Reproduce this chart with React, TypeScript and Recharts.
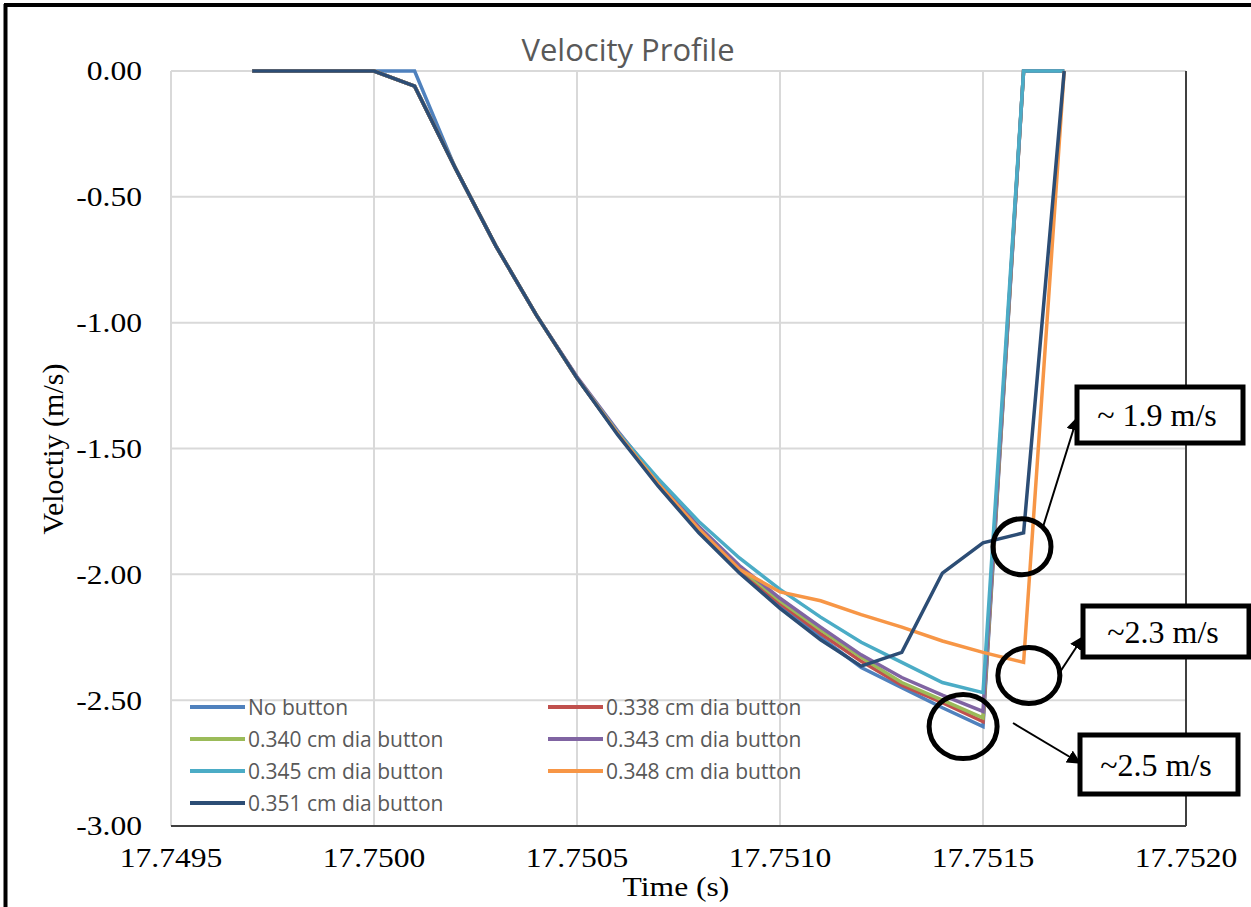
import { LineChart, Line, XAxis, YAxis, CartesianGrid, Legend, ReferenceLine, ReferenceDot } from 'recharts';

// time stamps (s)
const times = [
  17.7497, 17.7498, 17.7499, 17.75, 17.7501, 17.7502, 17.7503, 17.7504, 17.7505, 17.7506, 17.7507,
  17.7508, 17.7509, 17.751, 17.7511, 17.7512, 17.7513, 17.7514, 17.7515, 17.7516, 17.7517,
];

// velocities (m/s), one array per button size
const noButton = [0, 0, 0, 0, 0, -0.385, -0.695, -0.97, -1.22, -1.44, -1.64, -1.825, -1.985, -2.125, -2.25, -2.37, -2.45, -2.53, -2.605, 0, 0];
const dia338 = [0, 0, 0, 0, -0.06, -0.385, -0.695, -0.97, -1.22, -1.44, -1.64, -1.82, -1.98, -2.115, -2.235, -2.345, -2.44, -2.51, -2.585, 0, 0];
const dia340 = [0, 0, 0, 0, -0.06, -0.385, -0.695, -0.97, -1.22, -1.44, -1.635, -1.815, -1.975, -2.105, -2.22, -2.33, -2.43, -2.5, -2.57, 0, 0];
const dia343 = [0, 0, 0, 0, -0.06, -0.385, -0.695, -0.97, -1.215, -1.43, -1.63, -1.81, -1.965, -2.095, -2.21, -2.32, -2.41, -2.48, -2.545, 0, 0];
const dia345 = [0, 0, 0, 0, -0.06, -0.385, -0.695, -0.97, -1.22, -1.435, -1.62, -1.79, -1.935, -2.06, -2.17, -2.27, -2.35, -2.43, -2.47, 0, 0];
const dia348 = [0, 0, 0, 0, -0.06, -0.385, -0.695, -0.97, -1.22, -1.44, -1.64, -1.82, -1.98, -2.07, -2.105, -2.16, -2.21, -2.265, -2.31, -2.35, 0];
const dia351 = [0, 0, 0, 0, -0.06, -0.385, -0.695, -0.97, -1.22, -1.445, -1.65, -1.835, -1.995, -2.135, -2.26, -2.365, -2.31, -1.995, -1.875, -1.835, 0];

const seriesNames = [
  'No button',
  '0.338 cm dia button',
  '0.340 cm dia button',
  '0.343 cm dia button',
  '0.345 cm dia button',
  '0.348 cm dia button',
  '0.351 cm dia button',
];
const seriesValues = [noButton, dia338, dia340, dia343, dia345, dia348, dia351];
const seriesColors = ['#4F81BD', '#C0504D', '#9BBB59', '#8064A2', '#4BACC6', '#F79646', '#2C4D75'];

const xTicks = [17.7495, 17.75, 17.7505, 17.751, 17.7515, 17.752];
const yTicks = [0, -0.5, -1, -1.5, -2, -2.5, -3];

// highlighted spots (time, velocity, radii)
const circles = [
  { t: 17.751596, v: -1.89, rx: 29, ry: 28 },
  { t: 17.751613, v: -2.402, rx: 31, ry: 28 },
  { t: 17.751451, v: -2.605, rx: 34, ry: 32 },
];

const data = times.map((t, i) => {
  const row: Record<string, number> = { t };
  seriesValues.forEach((s, k) => {
    row['s' + k] = s[i];
  });
  return row;
});

const serif = '"Liberation Serif", "Times New Roman", serif';
const sans = '"Open Sans", "Noto Sans", sans-serif';

const XTick = ({ x, y, payload }: any) => (
  <text
    x={0}
    y={0}
    dy="0.71em"
    textAnchor="middle"
    transform={`translate(${x} ${y}) scale(1.17 1)`}
    fontFamily={serif}
    fontSize={27}
    fill="#000"
  >
    {Number(payload.value).toFixed(4)}
  </text>
);

const YTick = ({ x, y, payload }: any) => (
  <text
    x={0}
    y={0}
    dy="0.35em"
    textAnchor="end"
    transform={`translate(${x} ${y}) scale(1.17 1)`}
    fontFamily={serif}
    fontSize={27}
    fill="#000"
  >
    {Number(payload.value).toFixed(2)}
  </text>
);

const renderLegend = () => (
  <div style={{ display: 'grid', gridTemplateColumns: '358px 262px' }}>
    {seriesNames.map((name, i) => (
      <div key={name} style={{ height: 32, display: 'flex', alignItems: 'center' }}>
        <svg width={55} height={8}>
          <line x1={0} y1={4} x2={55} y2={4} stroke={seriesColors[i]} strokeWidth={4} />
        </svg>
        <span style={{ marginLeft: 3, fontFamily: sans, fontSize: 21, color: '#595959', whiteSpace: 'nowrap' }}>
          {name}
        </span>
      </div>
    ))}
  </div>
);

const ellipseShape = (rx: number, ry: number) => (props: any) => (
  <ellipse cx={props.cx} cy={props.cy} rx={rx} ry={ry} fill="none" stroke="#000" strokeWidth={5} />
);

function Callout({ x, y, w, h, label }: { x: number; y: number; w: number; h: number; label: string }) {
  return (
    <g>
      <rect x={x} y={y} width={w} height={h} fill="#fff" stroke="#000" strokeWidth={5} />
      <text
        x={x + w / 2 - 3}
        y={y + h / 2}
        dy="0.35em"
        textAnchor="middle"
        fontFamily={serif}
        fontSize={32}
        fill="#000"
      >
        {label}
      </text>
    </g>
  );
}

export default function App() {
  return (
    <div style={{ position: 'absolute', left: 0, top: 0, width: 1251, height: 907, overflow: 'hidden', background: '#fff' }}>
      <LineChart width={1251} height={907} data={data} margin={{ top: 71, right: 65, bottom: 31, left: 0 }}>
        <CartesianGrid stroke="#D9D9D9" strokeWidth={2} />
        <XAxis
          dataKey="t"
          type="number"
          domain={[17.7495, 17.752]}
          ticks={xTicks}
          height={50}
          tick={<XTick />}
          tickSize={0}
          tickMargin={22}
          tickLine={false}
          axisLine={{ stroke: '#404040', strokeWidth: 2 }}
        />
        <YAxis
          type="number"
          domain={[-3, 0]}
          ticks={yTicks}
          width={171}
          tick={<YTick />}
          tickSize={0}
          tickMargin={29}
          tickLine={false}
          axisLine={false}
        />
        <ReferenceLine x={17.752} stroke="#404040" strokeWidth={2} />
        {seriesNames.map((name, k) => (
          <Line
            key={name}
            dataKey={'s' + k}
            name={name}
            type="linear"
            stroke={seriesColors[k]}
            strokeWidth={3.5}
            dot={false}
            isAnimationActive={false}
          />
        ))}
        {circles.map((c, i) => (
          <ReferenceDot key={i} x={c.t} y={c.v} r={c.rx} shape={ellipseShape(c.rx, c.ry)} />
        ))}
        <Legend
          layout="horizontal"
          verticalAlign="middle"
          align="center"
          content={renderLegend}
          wrapperStyle={{ left: 190, top: 691, width: 640 }}
        />
      </LineChart>

      <svg
        width={1251}
        height={907}
        style={{ position: 'absolute', left: 0, top: 0, pointerEvents: 'none' }}
      >
        <defs>
          <marker id="arrow" viewBox="0 0 10 10" refX="9" refY="5" markerWidth="7" markerHeight="7" orient="auto">
            <path d="M0,0 L10,5 L0,10 z" fill="#000" />
          </marker>
        </defs>
        <line x1={5.5} y1={4} x2={5.5} y2={907} stroke="#000" strokeWidth={4} />
        <line x1={4} y1={5} x2={1251} y2={5} stroke="#000" strokeWidth={4} />

        <text x={628} y={61} textAnchor="middle" fontFamily={sans} fontSize={31} fill="#595959">
          Velocity Profile
        </text>
        <text
          x={0}
          y={0}
          textAnchor="middle"
          dominantBaseline="central"
          transform="translate(52 449) rotate(-90)"
          fontFamily={serif}
          fontSize={30}
          fill="#000"
        >
          Veloctiy (m/s)
        </text>
        <text
          x={0}
          y={0}
          textAnchor="middle"
          transform="translate(676 896) scale(1.17 1)"
          fontFamily={serif}
          fontSize={27}
          fill="#000"
        >
          Time (s)
        </text>

        <line x1={1043} y1={527} x2={1077} y2={418} stroke="#000" strokeWidth={2} markerEnd="url(#arrow)" />
        <line x1={1060} y1={672} x2={1083} y2={637} stroke="#000" strokeWidth={2} markerEnd="url(#arrow)" />
        <line x1={1013} y1={723} x2={1080} y2={763} stroke="#000" strokeWidth={2} markerEnd="url(#arrow)" />

        <Callout x={1077} y={387} w={166} h={56} label="~ 1.9 m/s" />
        <Callout x={1083} y={606} w={166} h={51} label="~2.3 m/s" />
        <Callout x={1080} y={735} w={158} h={59} label="~2.5 m/s" />
      </svg>
    </div>
  );
}
